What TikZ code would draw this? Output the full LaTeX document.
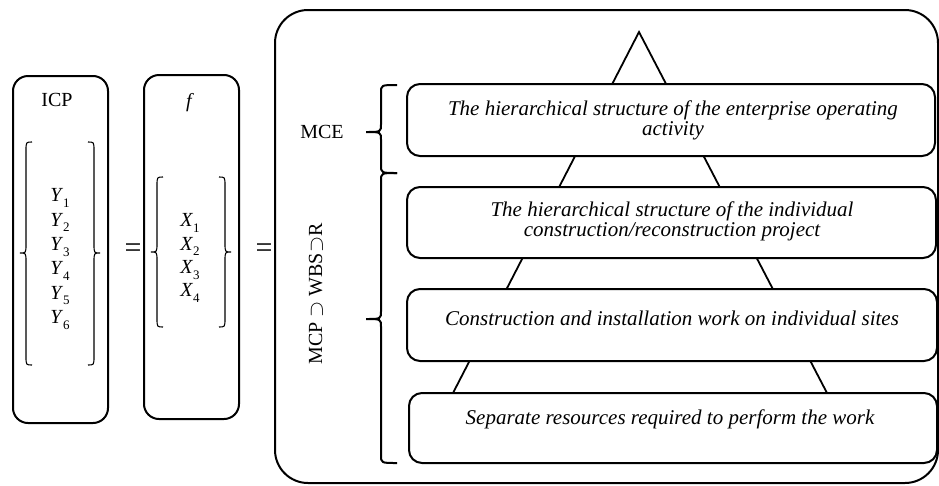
\documentclass[tikz,border=0pt]{standalone}
\usepackage{fontspec}
\setmainfont{Liberation Serif}
\newcommand{\vsub}[2]{\textit{#1}\raisebox{-0.28em}{\fontsize{13}{13}\selectfont #2}}
% #1 style, #2 end x, #3 straight x, #4 tip x, #5 top y, #6 mid y, #7 bottom y, #8 hook radius
\newcommand{\vbrace}[8]{%
  \draw[#1] (#2,#5) .. controls (#3,#5) .. ({#3},{#5+#8}) -- ({#3},{#6-#8})
    .. controls (#3,#6) .. (#4,#6) .. controls (#3,#6) .. ({#3},{#6+#8})
    -- ({#3},{#7-#8}) .. controls (#3,#7) .. (#2,#7);}
\tikzset{
  frame/.style={draw, line width=2pt, rounded corners=15pt},
  lvlbox/.style={draw, line width=2pt, rounded corners=13pt, fill=white},
  thinbr/.style={line width=1.1pt},
  thickbr/.style={line width=2pt},
  txt/.style={font=\fontsize{20}{20}\selectfont, inner sep=0pt},
  eqtxt/.style={font=\fontsize{30}{30}\selectfont, inner sep=0pt},
  itxt/.style={font=\fontsize{21}{20}\selectfont\itshape, inner sep=0pt, align=center},
  tri/.style={line width=1.8pt}
}
\begin{document}
\begin{tikzpicture}[x=1pt,y=-1pt]
\useasboundingbox (0,0) rectangle (939,485);
% left boxes
\draw[frame] (13,76) rectangle (108,423);
\draw[frame] (144,75) rectangle (239,419);
\node[txt] (icp) at (57,100) {ICP};
\node[txt] (f) at (190,103) {\textit{f}};
% Y braces
\vbrace{thinbr}{32}{26}{20}{142}{253}{365}{9}
\vbrace{thinbr}{88}{94}{100}{142}{253}{365}{9}
\foreach \i/\yy in {1/198,2/222.5,3/247,4/271,5/295.5,6/320}
  \node[txt] (y\i) at (60,\yy) {\vsub{Y}{\i}};
% X braces
\vbrace{thinbr}{163}{157}{151}{177}{252}{327}{9}
\vbrace{thinbr}{219}{225}{231}{177}{252}{327}{9}
\foreach \i/\yy in {1/223,2/246.5,3/270,4/293}
  \node[txt] (x\i) at (190,\yy) {\vsub{X}{\i}};
% equals
\node[eqtxt] (eq1) at (133,251) {=};
\node[eqtxt] (eq2) at (264,251) {=};
% big frame
\draw[line width=2pt, rounded corners=33pt] (275,10) rectangle (938,483);
% triangle
\coordinate (apex) at (639,32);
\coordinate (bl) at (453,393);
\coordinate (br) at (827,393);
\draw[tri] (bl) -- (apex) -- (br);
% level boxes
\draw[lvlbox] (407,84) rectangle (935,156);
\draw[lvlbox] (407,187) rectangle (936,258);
\draw[lvlbox] (407,289) rectangle (937,361);
\draw[lvlbox] (409,393) rectangle (937,463);
\node[itxt] (t1) at (673,120) {The hierarchical structure of the enterprise operating\\activity};
\node[itxt] (t2) at (672,221) {The hierarchical structure of the individual\\construction/reconstruction project};
\node[itxt] (t3) at (672,318) {Construction and installation work on individual sites};
\node[itxt] (t4) at (670,419) {Separate resources required to perform the work};
% side braces
\vbrace{thickbr}{397}{381}{366}{85}{132}{173}{8}
\vbrace{thickbr}{397}{381}{366}{173}{319}{463}{8}
\node[txt] (mce) at (322,132) {MCE};
\node[txt, rotate=90] (mcp) at (316,294) {MCP $\supset$ WBS$\supset$R};
\end{tikzpicture}
\end{document}
